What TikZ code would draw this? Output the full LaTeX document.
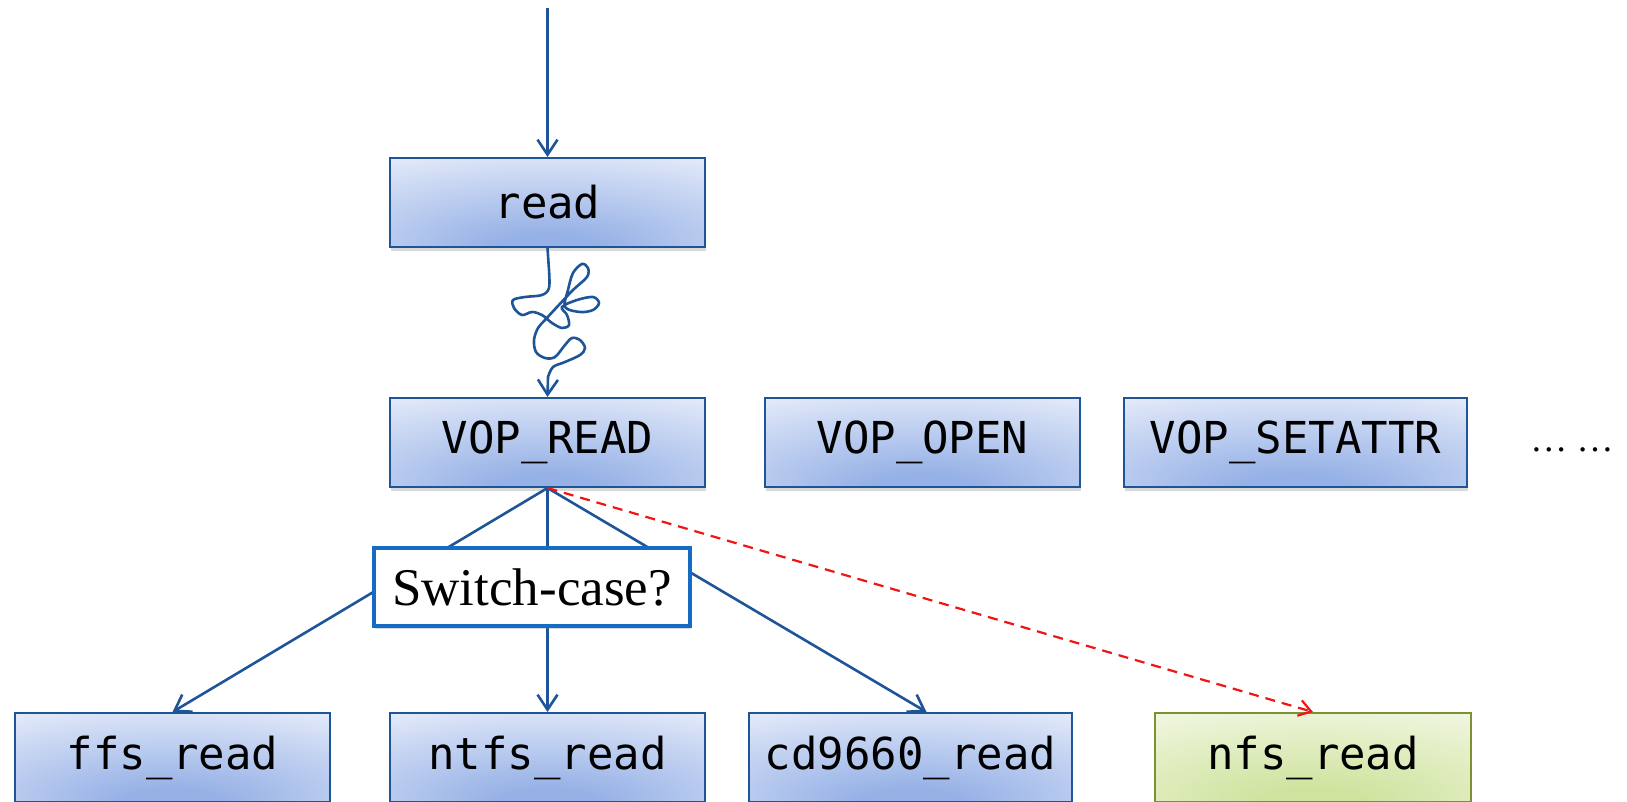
\documentclass[tikz,border=0pt]{standalone}
\usepackage{fontspec}
\setmonofont{DejaVu Sans Mono}
\newfontfamily\casefont{Liberation Serif}
\usetikzlibrary{arrows.meta,shadows,calc}

\definecolor{boxedge}{RGB}{238,242,252}
\definecolor{boxmid}{RGB}{150,177,230}
\definecolor{boxline}{RGB}{30,84,152}
\definecolor{nfsedge}{RGB}{245,249,234}
\definecolor{nfsmid}{RGB}{207,227,158}
\definecolor{nfsline}{RGB}{124,146,50}
\definecolor{caseline}{RGB}{22,108,196}
\definecolor{dashred}{RGB}{240,20,20}

\pgfdeclareradialshading{boxshade}{\pgfpoint{0bp}{-28bp}}{color(0bp)=(boxmid); color(8bp)=(boxmid); color(52bp)=(boxedge); color(100bp)=(boxedge)}
\pgfdeclareradialshading{nfsshade}{\pgfpoint{0bp}{-28bp}}{color(0bp)=(nfsmid); color(8bp)=(nfsmid); color(52bp)=(nfsedge); color(100bp)=(nfsedge)}

\tikzset{
  opbox/.style={draw=boxline, line width=2pt, shading=boxshade, inner sep=0pt,
    minimum width=315pt, minimum height=89pt, font=\ttfamily\fontsize{44}{50}\selectfont,
    drop shadow={shadow xshift=1pt, shadow yshift=-4pt, opacity=0.3}},
  nfsbox/.style={opbox, draw=nfsline, shading=nfsshade},
  casebox/.style={draw=caseline, line width=4pt, fill=white, inner sep=0pt,
    minimum width=316pt, minimum height=78pt, font=\casefont\fontsize{53}{60}\selectfont,
    drop shadow={shadow xshift=1pt, shadow yshift=-3pt, opacity=0.3}},
  link/.style={draw=boxline, line width=2.6pt, -{Straight Barb[length=15pt,width=20pt]}},
  dashlink/.style={draw=dashred, line width=2.2pt, dash pattern=on 10pt off 7pt,
    -{Straight Barb[length=12pt,width=16pt]}}
}

\begin{document}
\begin{tikzpicture}[x=1pt,y=-1pt]
  \useasboundingbox (0,0) rectangle (1627,802);

  % System call and vnode operations
  \coordinate (in) at (547.5,8);
  \node[opbox] (read) at (547.5,202.5) {read};
  \node[opbox] (vopread) at (547.5,442.5) {VOP\_READ};
  \node[opbox] (vopopen) at (922.5,442.5) {VOP\_OPEN};
  \node[opbox, minimum width=343pt] (vopsetattr) at (1295.5,442.5) {VOP\_SETATTR};
  \node[font=\casefont\fontsize{37}{42}\selectfont] (more) at (1572,450) {\ldots\ \ldots};

  % File system implementations
  \node[opbox] (ffs) at (172.5,757.5) {ffs\_read};
  \node[opbox] (ntfs) at (547.5,757.5) {ntfs\_read};
  \node[opbox, minimum width=323pt] (cd) at (910.5,757.5) {cd9660\_read};
  \node[nfsbox, minimum width=316pt] (nfs) at (1313,757.5) {nfs\_read};

  % Call path
  \draw[link] (in) -- (read.north);
  \draw[link] (read.south) -- plot[smooth, tension=0.55] coordinates {
    (549,270) (549,288) (542,295) (525,297) (513,300) (514,308) (522,315)
    (532,312) (542,315) (552,323) (562,328) (569,325) (567,315) (562,307)
    (577,300) (593,297) (599,303) (593,310) (580,312) (565,307)
    (568,290) (573,273) (582,264) (588,268) (587,277) (573,290)
    (557,307) (545,320) (538,328) (534,340) (536,352) (545,358) (555,357)
    (565,345) (572,338) (580,340) (585,348) (580,355) (565,362) (553,367)
    (548,377)} -- (vopread.north);

  % Dispatch
  \draw[link] (vopread.south) -- (ffs.north);
  \draw[link] (vopread.south) -- (ntfs.north);
  \draw[link] (vopread.south) -- ([xshift=16pt]cd.north);
  \draw[dashlink] (vopread.south) -- (nfs.north);

  \node[casebox] (switch) at (532,587) {Switch-case?};
\end{tikzpicture}
\end{document}
